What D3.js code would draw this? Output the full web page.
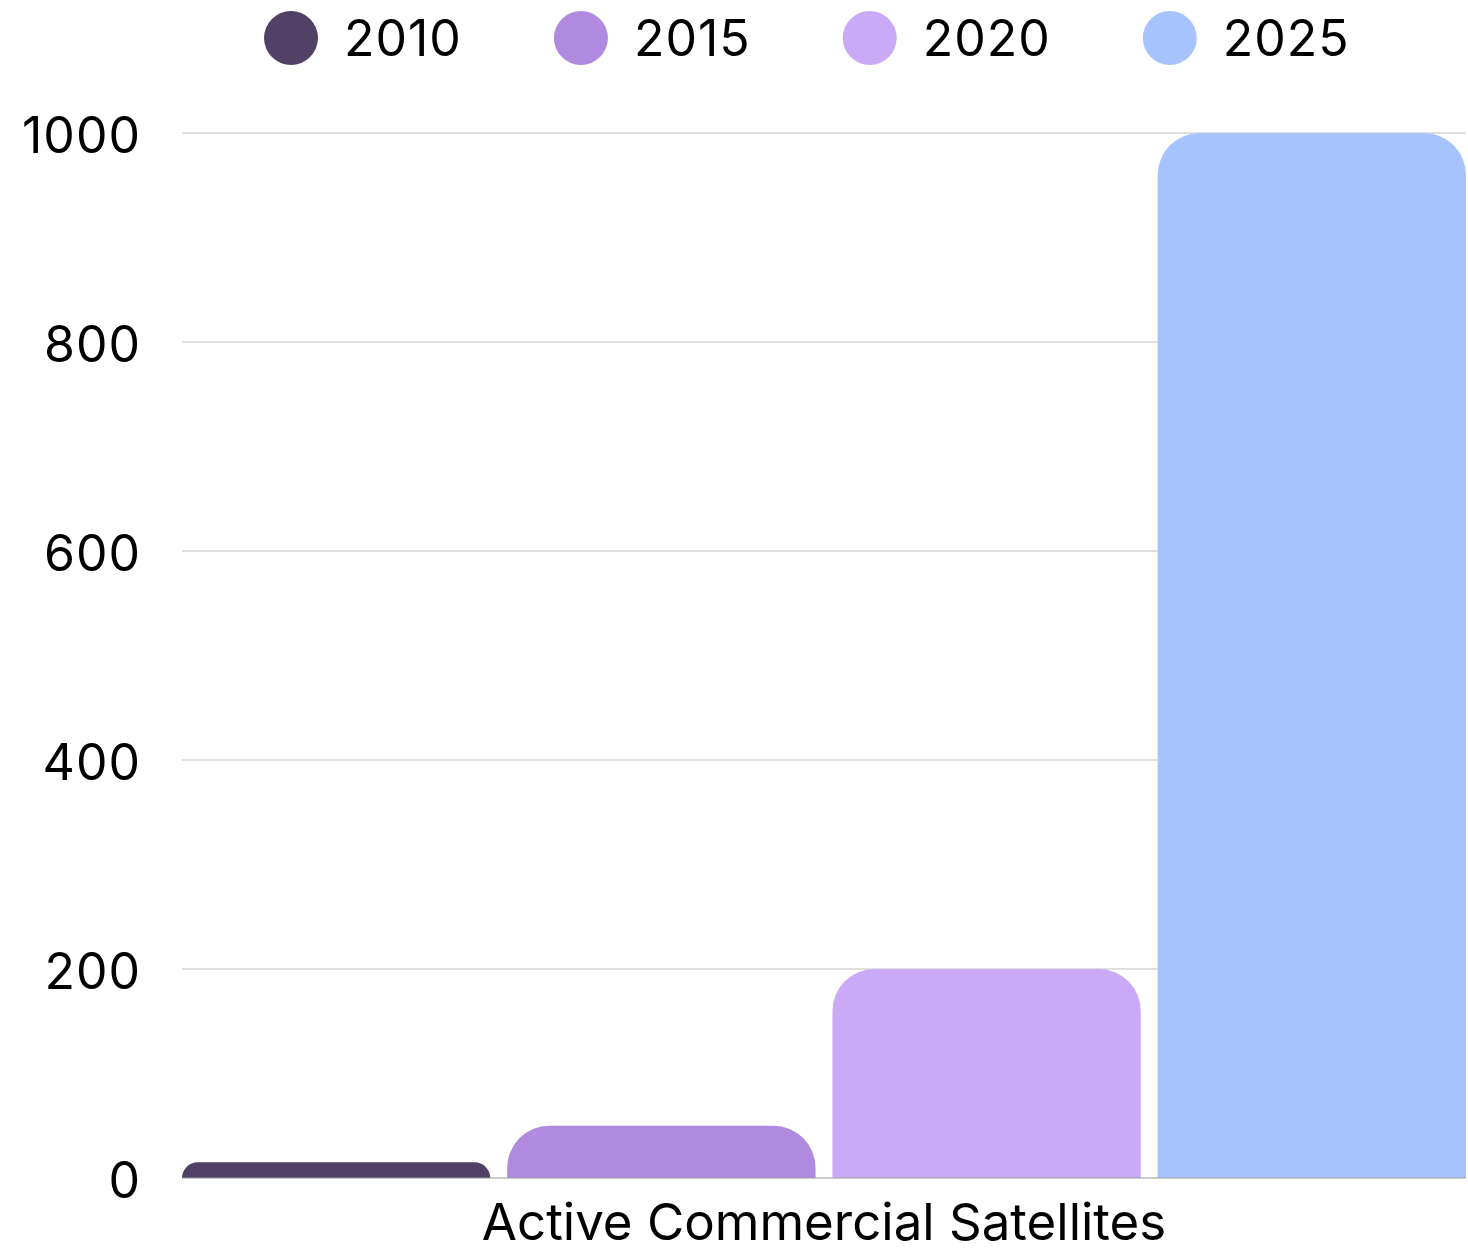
<!DOCTYPE html>
<html>
<head>
<meta charset="utf-8">
<script src="https://cdn.jsdelivr.net/npm/d3@7"></script>
<style>
  html, body { margin: 0; padding: 0; background: #fff; }
  svg { display: block; font-family: Inter, "Noto Sans", sans-serif; }
</style>
</head>
<body>
<svg id="chart" width="1468" height="1254"></svg>
<script>
// Active commercial satellites by year
const category = "Active Commercial Satellites";
const years = ["2010", "2015", "2020", "2025"];
const values = [15, 50, 200, 1000];
const colors = ["#514166", "#af8ade", "#caa9f6", "#a7c3fd"];
const yTicks = [0, 200, 400, 600, 800, 1000];

const svg = d3.select("#chart");
const W = 1468, H = 1254;
const margin = { top: 133, right: 2, bottom: 76, left: 182 };
const x0 = margin.left, x1 = W - margin.right;
const yTop = margin.top, yBottom = H - margin.bottom;

const x = d3.scaleBand().domain(years).range([x0, x1]).paddingInner(0.052).paddingOuter(0);
const y = d3.scaleLinear().domain([0, 1000]).range([yBottom, yTop]);

// Gridlines
svg.append("g")
  .selectAll("line")
  .data(yTicks.filter(d => d > 0))
  .join("line")
  .attr("x1", x0).attr("x2", x1)
  .attr("y1", d => y(d)).attr("y2", d => y(d))
  .attr("stroke", "#bfbfbf").attr("stroke-width", 1);

// Y axis labels
const yAxis = d3.axisLeft(y).tickValues(yTicks).tickSize(0).tickPadding(41).tickFormat(d3.format("d"));
const gy = svg.append("g").attr("transform", `translate(${x0},0)`).call(yAxis);
gy.select(".domain").remove();
gy.selectAll("text")
  .attr("font-size", 50)
  .attr("letter-spacing", 1)
  .attr("fill", "#000")
  .attr("font-family", "Inter, 'Noto Sans', sans-serif")
  .attr("dy", "0.38em");

// Bars with rounded top corners
function topRoundedArc(xl, yt, w, h, r) {
  const rr = Math.min(r, h, w / 2);
  return `M${xl},${yt + h}` +
    `V${yt + rr}` +
    `A${rr},${rr} 0 0 1 ${xl + rr},${yt}` +
    `H${xl + w - rr}` +
    `A${rr},${rr} 0 0 1 ${xl + w},${yt + rr}` +
    `V${yt + h}Z`;
}

svg.append("g")
  .selectAll("path")
  .data(years.map((yr, i) => ({ yr, v: values[i], c: colors[i] })))
  .join("path")
  .attr("d", d => topRoundedArc(x(d.yr), y(d.v), x.bandwidth(), y(0) - y(d.v), 42))
  .attr("fill", d => d.c);

// Baseline
svg.append("line")
  .attr("x1", x0).attr("x2", x1)
  .attr("y1", y(0)).attr("y2", y(0))
  .attr("stroke", "#9a9a9a").attr("stroke-width", 1.2);

// Category label
svg.append("text")
  .attr("x", (x0 + x1) / 2)
  .attr("y", 1240)
  .attr("text-anchor", "middle")
  .attr("font-size", 51)
  .attr("fill", "#000")
  .text(category);

// Legend
const legend = svg.append("g");
let lx = 264;
years.forEach((yr, i) => {
  const item = legend.append("g");
  item.append("circle").attr("cx", lx + 27).attr("cy", 38).attr("r", 27).attr("fill", colors[i]);
  const t = item.append("text")
    .attr("x", lx + 80).attr("y", 38)
    .attr("dy", "0.36em")
    .attr("font-size", 50)
    .attr("letter-spacing", 1)
    .attr("fill", "#000")
    .text(yr);
  const tw = t.node().getComputedTextLength();
  lx += 80 + tw + 92;
});
</script>
</body>
</html>
